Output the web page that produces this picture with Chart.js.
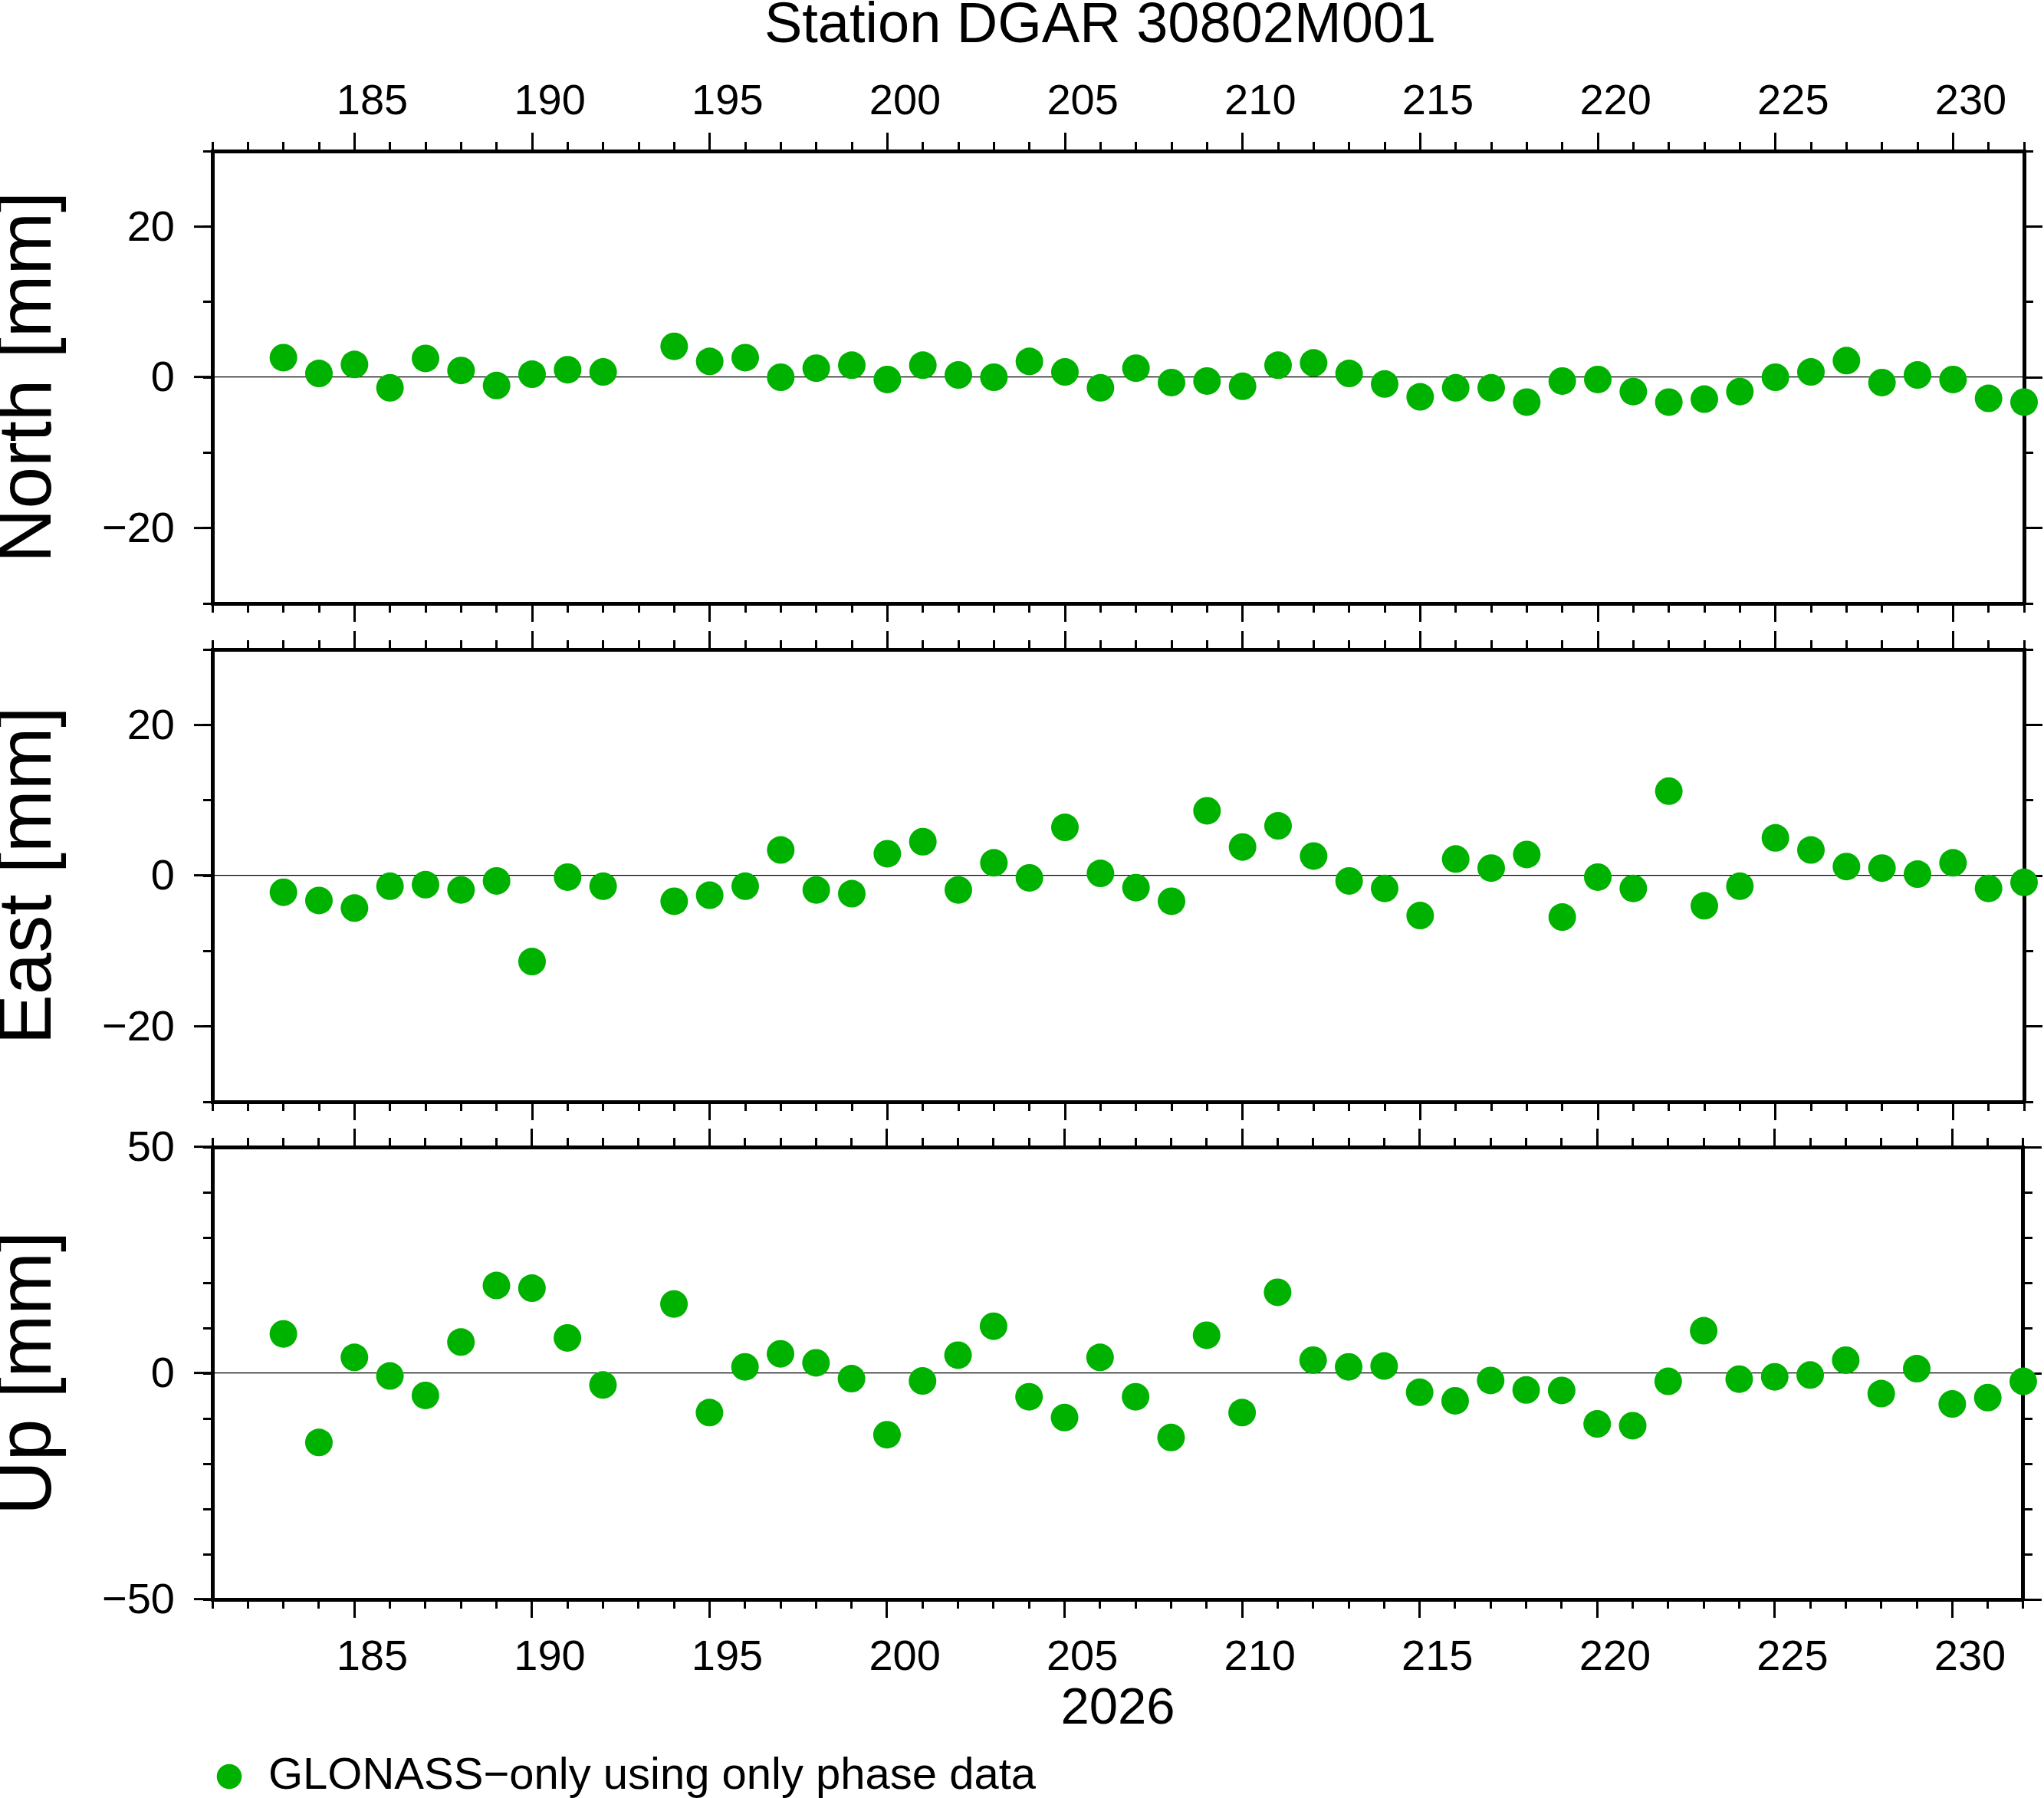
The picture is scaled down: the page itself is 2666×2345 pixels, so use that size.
<!DOCTYPE html>
<html>
<head>
<meta charset="utf-8">
<script src="https://cdn.jsdelivr.net/npm/chart.js@4.4.1/dist/chart.umd.min.js"></script>
<style>
html,body{margin:0;padding:0;background:#fff;overflow:hidden;}
#wrap{position:relative;width:2666px;height:2345px;overflow:hidden;background:#fff;}
canvas{position:absolute;left:0;}
</style>
</head>
<body>
<div id="wrap">
<canvas id="c1" width="2870" height="900" style="top:-10px;width:2870px;height:900px"></canvas>
<canvas id="c2" width="2666" height="1500" style="top:0px;width:2666px;height:1500px"></canvas>
<canvas id="c3" width="2666" height="2356" style="top:0px;width:2666px;height:2356px"></canvas>
</div>
<script>
// ---------------- data ----------------
const chartTitle = 'Station DGAR 30802M001';
const xAxisTitle = '2026';
const seriesLabel = 'GLONASS\u2212only using only phase data';
const panelTitles = ['North [mm]', 'East [mm]', 'Up [mm]'];

const days = [183,184,185,186,187,188,189,190,191,192,
              194,195,196,197,198,199,200,201,202,203,
              204,205,206,207,208,209,210,211,212,213,
              214,215,216,217,218,219,220,221,222,223,
              224,225,226,227,228,229,230,231,232];

const north = [2.6,0.5,1.7,-1.4,2.5,0.9,-1.1,0.4,1.0,0.7,
               4.1,2.1,2.6,0.0,1.2,1.6,-0.3,1.6,0.3,0.0,
               2.1,0.7,-1.4,1.2,-0.7,-0.5,-1.2,1.6,1.9,0.5,
               -0.9,-2.6,-1.4,-1.4,-3.3,-0.5,-0.3,-1.9,-3.3,-2.9,
               -1.9,0.0,0.7,2.2,-0.7,0.3,-0.3,-2.8,-3.3];

const east = [-2.2,-3.3,-4.3,-1.4,-1.2,-1.9,-0.7,-11.4,-0.2,-1.4,
              -3.4,-2.6,-1.4,3.4,-1.9,-2.4,2.9,4.5,-1.9,1.7,
              -0.3,6.4,0.3,-1.6,-3.4,8.6,3.8,6.6,2.6,-0.7,
              -1.7,-5.3,2.2,1.0,2.8,-5.5,-0.2,-1.7,11.2,-4.0,
              -1.4,5.0,3.4,1.2,1.0,0.2,1.7,-1.7,-0.9];

const up = [8.7,-15.3,3.5,-0.6,-4.9,6.9,19.4,18.8,7.8,-2.6,
            15.3,-8.7,1.4,4.3,2.3,-1.2,-13.6,-1.7,4.0,10.4,
            -5.2,-9.8,3.5,-5.2,-14.2,8.4,-8.7,17.9,2.9,1.4,
            1.6,-4.2,-6.1,-1.6,-3.7,-3.8,-11.2,-11.6,-1.8,9.4,
            -1.3,-0.8,-0.4,2.9,-4.5,1.0,-6.8,-5.4,-1.8];

const xTickLabels = [185,190,195,200,205,210,215,220,225,230];
const yTickValuesNE = [-20,0,20];
const yTickValuesUp = [-50,0,50];
const xRange = [181,232];
const yRangeNE = [-30,30];
const yRangeUp = [-50,50];
const xMinorStep = 1;
const yMinorStep = 10;

// ---------------- style ----------------
Chart.defaults.font.family = '"Liberation Sans", Arial, Helvetica, sans-serif';
Chart.defaults.color = '#000';
const GREEN = 'rgb(0,178,0)';
const G = {plotLeft:277, plotRight:2640, frame:5, tickW:3, major:24, minor:12};
const TICK_FONT = {size:56, lineHeight:1};
const fmt = v => v < 0 ? '\u2212' + Math.abs(v) : String(v);

const majorGrid = {drawOnChartArea:false, drawTicks:true, tickLength:G.major, tickWidth:G.tickW, tickColor:'#000', color:'#000', lineWidth:G.tickW};
const minorGrid = Object.assign({}, majorGrid, {tickLength:G.minor});
const frame = {display:true, width:G.frame, color:'#000'};
const noFrame = {display:false};
const setH = h => s => { s.height = h; };
const setW = w => s => { s.width = w; };
const xMajorTicks = s => { s.ticks = xTickLabels.map(v => ({value:v})); };
const xLabelTicks = s => { s.ticks = xTickLabels.map(v => ({value:v + 0.5})); };

function xScale(pos, weight, extra) {
  return Object.assign({type:'linear', axis:'x', position:pos, weight:weight, min:xRange[0], max:xRange[1], offset:false}, extra);
}
function yScale(pos, weight, p, extra) {
  return Object.assign({type:'linear', axis:'y', position:pos, weight:weight, min:p.yRange[0], max:p.yRange[1]}, extra);
}
function labelAxis(pos, show, h, pad, titleText, titlePad) {
  return xScale(pos, 2, {
    afterBuildTicks: xLabelTicks,
    grid:{display:false, drawTicks:false},
    border: noFrame,
    ticks:{display:show, font:TICK_FONT, padding:pad, maxRotation:0, minRotation:0, autoSkip:false,
           callback:(v, i) => String(xTickLabels[i])},
    title: titleText ? {display:true, text:titleText, font:{size:67, lineHeight:1}, padding:titlePad, color:'#000'} : {display:false},
    afterFit: setH(h)
  });
}

function buildScales(p) {
  const yMajorTicks = s => { s.ticks = p.yTicks.map(v => ({value:v})); };
  return {
    x: xScale('bottom', 1, {afterBuildTicks:xMajorTicks, ticks:{display:false}, grid:majorGrid, border:frame, afterFit:setH(0)}),
    xMinor: xScale('bottom', 0, {ticks:{display:false, stepSize:xMinorStep, includeBounds:false, maxTicksLimit:1000}, grid:minorGrid, border:noFrame, afterFit:setH(0)}),
    xLab: labelAxis('bottom', p.bottomLabels, p.bottomH, 49, p.xTitle, {top:0, bottom:24.5}),
    xTop: xScale('top', 1, {afterBuildTicks:xMajorTicks, ticks:{display:false}, grid:majorGrid, border:frame, afterFit:setH(0)}),
    xTopMinor: xScale('top', 0, {ticks:{display:false, stepSize:xMinorStep, includeBounds:false, maxTicksLimit:1000}, grid:minorGrid, border:noFrame, afterFit:setH(0)}),
    xTopLab: labelAxis('top', p.topLabels, p.topH, 35, null, null),
    y: yScale('left', 1, p, {
      afterBuildTicks: yMajorTicks,
      ticks:{font:TICK_FONT, padding:25, labelOffset:3, autoSkip:false, callback:v => fmt(v)},
      grid: Object.assign({}, majorGrid, {drawOnChartArea:true, lineWidth:1.2,
             color: c => (c.tick && c.tick.value === 0) ? '#000' : 'rgba(0,0,0,0)'}),
      border: frame,
      title:{display:true, text:p.yTitle, font:{size:98, lineHeight:0.8}, padding:0, color:'#000'},
      afterFit: setW(G.plotLeft)
    }),
    yMinor: yScale('left', 0, p, {ticks:{display:false, stepSize:yMinorStep, maxTicksLimit:1000}, grid:minorGrid, border:noFrame, afterFit:setW(0)}),
    y2: yScale('right', 1, p, {afterBuildTicks:yMajorTicks, ticks:{display:false}, grid:majorGrid, border:frame, afterFit:setW(p.width - G.plotRight)}),
    y2Minor: yScale('right', 0, p, {ticks:{display:false, stepSize:yMinorStep, maxTicksLimit:1000}, grid:minorGrid, border:noFrame, afterFit:setW(0)})
  };
}

function makeChart(p) {
  new Chart(document.getElementById(p.id), {
    type: 'scatter',
    data: {
      datasets: [{
        label: seriesLabel,
        data: days.map((d, i) => ({x:d, y:p.values[i]})),
        backgroundColor: GREEN,
        borderColor: GREEN,
        pointBackgroundColor: GREEN,
        pointBorderWidth: 0,
        pointRadius: 18,
        pointHoverRadius: 18,
        pointStyle: 'circle',
        showLine: false,
        clip: false
      }]
    },
    options: {
      responsive: false,
      maintainAspectRatio: false,
      devicePixelRatio: 1,
      animation: false,
      events: [],
      layout: {padding: 0, autoPadding: false},
      scales: buildScales(p),
      plugins: {
        tooltip: {enabled:false},
        title: p.title ? {display:true, text:chartTitle, fullSize:true, color:'#000',
                          font:{size:74, lineHeight:1, weight:'normal'}, padding:{top:7.5, bottom:0}} : {display:false},
        legend: p.legend ? {display:true, position:'bottom', align:'start', fullSize:false,
                            labels:{font:{size:58}, color:'#000', usePointStyle:true, pointStyle:'circle',
                                    boxWidth:44, boxHeight:23, padding:0}} : {display:false}
      }
    }
  });
}

makeChart({id:'c1', values:north, yTitle:panelTitles[0], yRange:yRangeNE, yTicks:yTickValuesNE,
           width:2870, topH:125.5, bottomH:103, topLabels:true, bottomLabels:false, title:true, legend:false});
makeChart({id:'c2', values:east, yTitle:panelTitles[1], yRange:yRangeNE, yTicks:yTickValuesNE,
           width:2666, topH:847, bottomH:63, topLabels:false, bottomLabels:false, title:false, legend:false});
makeChart({id:'c3', values:up, yTitle:panelTitles[2], yRange:yRangeUp, yTicks:yTickValuesUp,
           width:2666, topH:1496, bottomH:202, topLabels:false, bottomLabels:true, xTitle:xAxisTitle, title:false, legend:true});
</script>
</body>
</html>
